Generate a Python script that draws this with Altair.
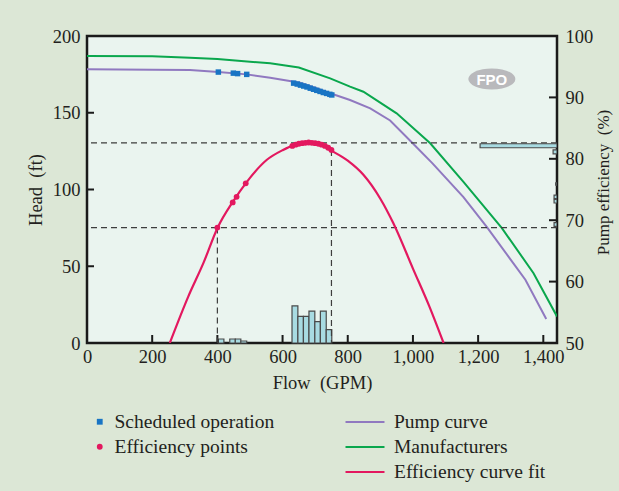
import altair as alt
import pandas as pd

# ---------------- data ----------------
pump_flow = [0, 200, 316, 403, 490, 562, 654, 700, 746, 807, 869, 930, 1000, 1060, 1155, 1227, 1345, 1409]
pump_head = [178.3, 178.0, 177.8, 176.5, 175.0, 172.8, 169.6, 166.3, 162.7, 158.3, 152.9, 145.0, 130.0, 117.0, 95.0, 75.5, 41.2, 15.6]

manu_flow = [0, 200, 316, 400, 562, 650, 746, 807, 848, 950, 1053, 1155, 1273, 1370, 1442]
manu_head = [187.0, 186.8, 185.8, 185.0, 182.2, 179.5, 172.4, 167.0, 163.7, 149.6, 130.1, 105.0, 74.8, 45.5, 17.3]

sched_flow = [403, 449, 462, 490, 634, 645, 655, 665, 675, 685, 695, 705, 715, 725, 735, 745, 751]
sched_head = [176.5, 175.8, 175.5, 175.0, 169.3, 168.7, 168.0, 167.4, 166.8, 166.0, 165.3, 164.6, 163.9, 163.2, 162.6, 162.0, 161.6]

effpt_flow = [400, 447, 459, 487, 630, 640, 650, 660, 670, 680, 690, 700, 710, 720, 730, 740, 750]
effpt_eff = [68.8, 72.9, 73.8, 76.0, 82.1, 82.3, 82.45, 82.55, 82.6, 82.65, 82.6, 82.55, 82.45, 82.3, 82.1, 81.8, 81.45]

fit_flow = [254, 311, 357, 400, 450, 487, 551, 600, 640, 682, 720, 746, 800, 848, 900, 940, 1001, 1050, 1094]
fit_eff = [50.0, 57.6, 63.0, 68.7, 73.2, 76.0, 79.8, 81.4, 82.3, 82.65, 82.3, 81.45, 79.7, 77.4, 73.5, 69.5, 62.0, 56.0, 50.0]

hist_lo = [403, 438, 455, 472, 629, 647, 664, 681, 699, 716, 734]
hist_hi = [420, 455, 472, 490, 647, 664, 681, 699, 716, 734, 751]
hist_count = [2.6, 2.6, 2.6, 1.3, 24.2, 17.3, 17.3, 20.8, 13.9, 20.8, 8.7]

ehist_lo = [81.8, 80.8, 75.7, 73.5, 72.8, 69.0]
ehist_hi = [82.45, 81.45, 76.1, 74.1, 73.4, 69.6]
ehist_count = [236, 12, 4, 9, 9, 9]

ref_eff = [82.6, 68.8]
drop_flow = [400, 750]
drop_eff = [68.8, 81.45]

x_ticks = [0, 200, 400, 600, 800, 1000, 1200, 1400]
head_ticks = [0, 50, 100, 150, 200]
eff_ticks = [50, 60, 70, 80, 90, 100]

fpo_flow = [1242]
fpo_head = [172]
fpo_text = ["FPO"]

line_names = ["Pump curve", "Manufacturers", "Efficiency curve fit"]
point_names = ["Scheduled operation", "Efficiency points"]

# ---------------- styling ----------------
XMAX = 1442
W, H = 470, 307
SERIF = "Liberation Serif"
TXT = "#231f20"
FS = 18.5
LFS = 19.5
line_colors = ["#9079c0", "#0aa74d", "#e3185f"]
point_colors = ["#1874c4", "#e3185f"]

xs = alt.Scale(domain=[0, XMAX], nice=False, zero=False)
yh = alt.Scale(domain=[0, 200], nice=False, zero=False)
ye = alt.Scale(domain=[50, 100], nice=False, zero=False)
stroke_scale = alt.Scale(domain=line_names, range=line_colors)
fill_scale = alt.Scale(domain=point_names, range=point_colors)
shape_scale = alt.Scale(domain=point_names, range=["square", "circle"])


def ax(**kw):
    base = dict(labelFont=SERIF, labelFontSize=FS, labelColor=TXT, titleFont=SERIF,
                titleFontSize=FS, titleFontWeight="normal", titleColor=TXT,
                ticks=False, domain=False, grid=False)
    base.update(kw)
    return alt.Axis(**base)


x_axis = ax(values=x_ticks, labelExpr="format(datum.value, ',d')", title="Flow\u00a0 (GPM)",
            labelPadding=4, titlePadding=8, labelFlush=False)
yl_axis = ax(values=head_ticks, title="Head\u00a0 (ft)", orient="left",
             labelPadding=7, titlePadding=7)
yr_axis = ax(values=eff_ticks, title="Pump efficiency\u00a0 (%)", orient="right",
             labelPadding=8, titlePadding=3, titleAngle=270, titleBaseline="top",
             titleFontSize=17, titleY=146)

legend_common = dict(title=None, orient="none", labelFont=SERIF, labelFontSize=LFS,
                     labelColor=TXT, padding=0, rowPadding=4)
dash_symbol = "M-2,0H2"
line_legend = alt.Legend(legendX=267, legendY=375, symbolType=dash_symbol, symbolSize=380,
                         symbolStrokeWidth=2.2, labelOffset=18, **legend_common)
point_legend = alt.Legend(legendX=3, legendY=376, symbolSize=34, symbolStrokeWidth=0,
                          labelOffset=5, **legend_common)

# ---------------- frames ----------------
curves = pd.concat([
    pd.DataFrame({"flow": pump_flow, "val": pump_head, "series": line_names[0]}),
    pd.DataFrame({"flow": manu_flow, "val": manu_head, "series": line_names[1]}),
])
sched = pd.DataFrame({"flow": sched_flow, "val": sched_head, "ptype": point_names[0]})
effpts = pd.DataFrame({"flow": effpt_flow, "val": effpt_eff, "ptype": point_names[1]})
fit = pd.DataFrame({"flow": fit_flow, "val": fit_eff, "series": line_names[2]})
hist = pd.DataFrame({"lo": hist_lo, "hi": hist_hi, "count": hist_count})
hist["base"] = 0
ehist = pd.DataFrame({"lo": ehist_lo, "hi": ehist_hi, "count": ehist_count})
ehist["x1"] = XMAX
ehist["x0"] = XMAX - ehist["count"]
refs = pd.DataFrame({"v": ref_eff})
drops = pd.DataFrame({"flow": drop_flow, "val": drop_eff, "base": 50})
xt = pd.DataFrame({"v": x_ticks[1:]})
ht = pd.DataFrame({"v": head_ticks[1:-1]})
et = pd.DataFrame({"v": eff_ticks[1:-1]})
fpo = pd.DataFrame({"flow": fpo_flow, "val": fpo_head, "txt": fpo_text})

BAR_FILL = "#a8dbe2"
BAR_STROKE = "#4a4a4a"
DASH = "#3d3d3d"


def X(f):
    # identical axis definition on every layer so the shared x axis merges cleanly
    return alt.X(f, type="quantitative", scale=xs, axis=x_axis)


def YH(f, axis=None):
    return alt.Y(f, type="quantitative", scale=yh, axis=axis)


def YE(f, axis=None):
    return alt.Y(f, type="quantitative", scale=ye, axis=axis)


# ---------------- head-scale marks ----------------
bars = alt.Chart(hist).mark_rect(fill=BAR_FILL, stroke=BAR_STROKE, strokeWidth=1.2).encode(
    x=X("lo"), x2="hi:Q", y=YH("count", yl_axis), y2="base:Q")

lines_h = alt.Chart(curves).mark_line(strokeWidth=2, clip=True).encode(
    x=X("flow"), y=YH("val"),
    stroke=alt.Stroke("series:N", scale=stroke_scale, legend=line_legend),
    detail="series:N")

sched_pts = alt.Chart(sched).mark_point(filled=True, opacity=1, strokeWidth=0, size=30).encode(
    x=X("flow"), y=YH("val"),
    fill=alt.Fill("ptype:N", scale=fill_scale, legend=point_legend),
    shape=alt.Shape("ptype:N", scale=shape_scale, legend=point_legend))

ticks_x = alt.Chart(xt).mark_rule(color="#1a1a1a", strokeWidth=2).encode(
    x=X("v"), y=alt.value(H), y2=alt.value(H - 8))
ticks_h = alt.Chart(ht).mark_rule(color="#1a1a1a", strokeWidth=2).encode(
    y=YH("v"), x=alt.value(0), x2=alt.value(7))

ellipse = ("M-1,0C-1,-0.247,-0.552,-0.447,0,-0.447C0.552,-0.447,1,-0.247,1,0"
           "C1,0.247,0.552,0.447,0,0.447C-0.552,0.447,-1,0.247,-1,0Z")
fpo_badge = alt.Chart(fpo).mark_point(shape=ellipse, size=2209, filled=True, opacity=1,
                                      color="#b9b9bc", strokeWidth=0).encode(
    x=X("flow"), y=YH("val"))
fpo_label = alt.Chart(fpo).mark_text(font="Liberation Sans", fontWeight="bold", fontSize=15,
                                     color="white", baseline="middle", align="center", dy=1).encode(
    x=X("flow"), y=YH("val"), text="txt:N")

# ---------------- efficiency-scale marks ----------------
ref_rules = alt.Chart(refs).mark_rule(color=DASH, strokeWidth=1.2, strokeDash=[6, 4]).encode(
    y=YE("v", yr_axis))
drop_rules = alt.Chart(drops).mark_rule(color=DASH, strokeWidth=1.2, strokeDash=[6, 4]).encode(
    x=X("flow"), y=YE("val"), y2="base:Q")

fit_line = alt.Chart(fit).mark_line(strokeWidth=2.2, interpolate="monotone", clip=True).encode(
    x=X("flow"), y=YE("val"),
    stroke=alt.Stroke("series:N", scale=stroke_scale, legend=line_legend))

eff_pts = alt.Chart(effpts).mark_point(filled=True, opacity=1, strokeWidth=0, size=34).encode(
    x=X("flow"), y=YE("val"),
    fill=alt.Fill("ptype:N", scale=fill_scale, legend=point_legend),
    shape=alt.Shape("ptype:N", scale=shape_scale, legend=point_legend))

ebars = alt.Chart(ehist).mark_rect(fill=BAR_FILL, stroke=BAR_STROKE, strokeWidth=1.2, clip=True).encode(
    x=X("x0"), x2="x1:Q", y=YE("lo"), y2="hi:Q")

ticks_e = alt.Chart(et).mark_rule(color="#1a1a1a", strokeWidth=2).encode(
    y=YE("v"), x=alt.value(W - 8), x2=alt.value(W))

chart = alt.layer(
    bars, lines_h, sched_pts, ticks_x, ticks_h, fpo_badge, fpo_label,
    ref_rules, drop_rules, fit_line, eff_pts, ebars, ticks_e,
).resolve_scale(y="independent").properties(
    width=W, height=H,
    autosize=alt.AutoSizeParams(type="none"),
    padding={"left": 87, "top": 36, "right": 62, "bottom": 148},
    background="#dce7d6",
).configure_view(fill="#eaf4ef", stroke="#1a1a1a", strokeWidth=2.5)

chart.save("out.html", embed_options={"renderer": "svg", "actions": False})
